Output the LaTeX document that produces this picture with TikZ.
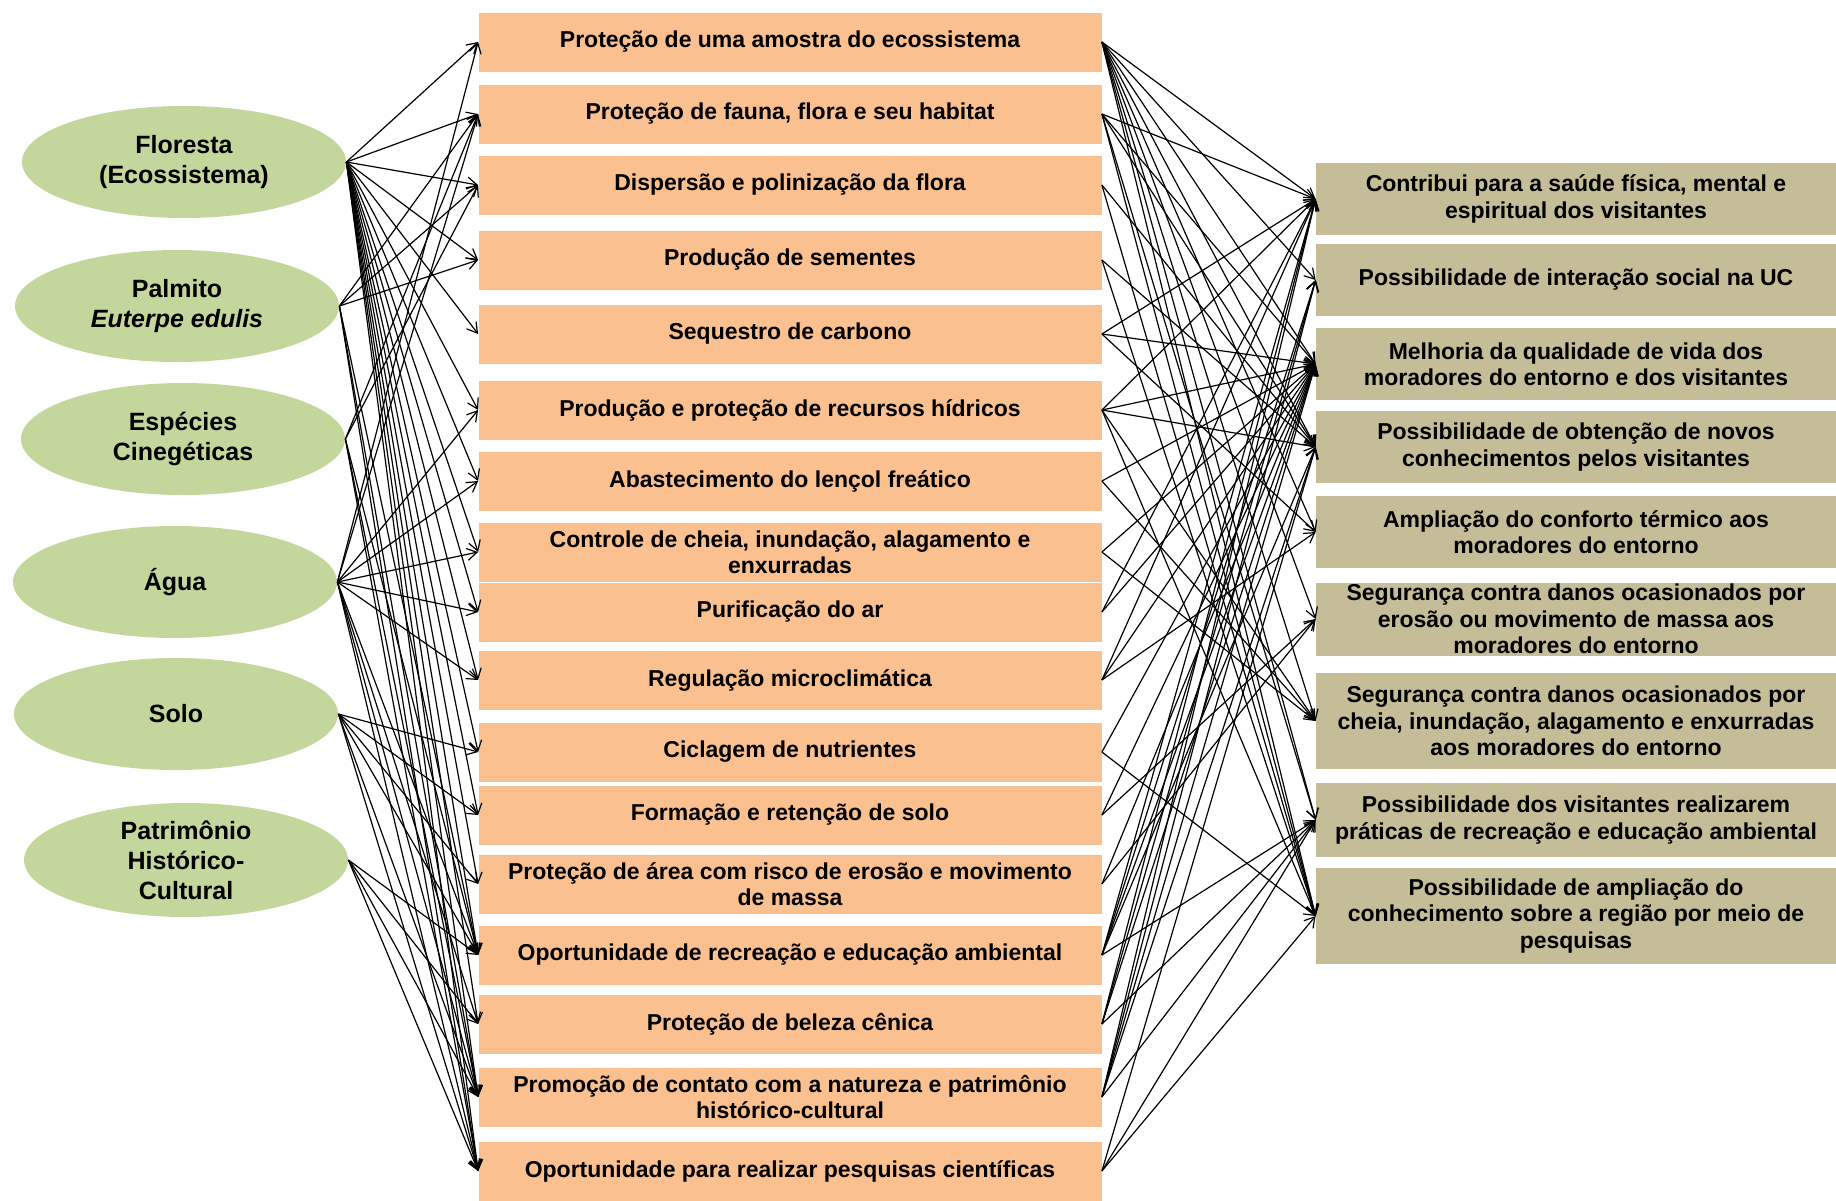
\documentclass[tikz,border=0pt]{standalone}
\usepackage{fontspec}
\setmainfont{Liberation Sans}
\usetikzlibrary{shapes.geometric,arrows.meta}

\definecolor{verde}{RGB}{195,214,155}
\definecolor{laranja}{RGB}{250,192,144}
\definecolor{bege}{RGB}{196,189,151}

\tikzset{
  recurso/.style={fill=verde, shape=ellipse, minimum width=162pt, minimum height=56pt, inner sep=0pt, align=center, font=\fontsize{12.5}{15}\selectfont\bfseries},
  servico/.style={fill=laranja, shape=rectangle, minimum width=311.5pt, minimum height=29.5pt, inner sep=0pt, align=center, font=\fontsize{11.5}{13}\selectfont\bfseries},
  beneficio/.style={fill=bege, shape=rectangle, minimum width=260pt, minimum height=36pt, inner sep=0pt, align=center, font=\fontsize{11.5}{13.2}\selectfont\bfseries},
  liga/.style={-{Straight Barb[length=5pt,width=6pt]}, line width=0.6pt}
}

\begin{document}
\begin{tikzpicture}[x=0.5pt, y=-0.5pt]
\useasboundingbox (0,0) rectangle (1836,1200);

% recursos
\node[recurso] (e1) at (184,162) {Floresta\\(Ecossistema)};
\node[recurso] (e2) at (177,306) {Palmito\\\textit{Euterpe edulis}};
\node[recurso] (e3) at (183,439) {Espécies\\Cinegéticas};
\node[recurso] (e4) at (175,582) {Água};
\node[recurso] (e5) at (176,714) {Solo};
\node[recurso, minimum height=57pt, inner ysep=-6pt] (e6) at (186,860) {Patrimônio\\Histórico-\\Cultural};

% servicos
\node[servico] (s1) at (790,42) {Proteção de uma amostra do ecossistema};
\node[servico] (s2) at (790,114) {Proteção de fauna, flora e seu habitat};
\node[servico] (s3) at (790,185) {Dispersão e polinização da flora};
\node[servico] (s4) at (790,260) {Produção de sementes};
\node[servico] (s5) at (790,334) {Sequestro de carbono};
\node[servico] (s6) at (790,410) {Produção e proteção de recursos hídricos};
\node[servico] (s7) at (790,481) {Abastecimento do lençol freático};
\node[servico] (s8) at (790,552) {Controle de cheia, inundação, alagamento e\\enxurradas};
\node[servico] (s9) at (790,612) {Purificação do ar};
\node[servico] (s10) at (790,680) {Regulação microclimática};
\node[servico] (s11) at (790,752) {Ciclagem de nutrientes};
\node[servico] (s12) at (790,815) {Formação e retenção de solo};
\node[servico] (s13) at (790,884) {Proteção de área com risco de erosão e movimento\\de massa};
\node[servico] (s14) at (790,955) {Oportunidade de recreação e educação ambiental};
\node[servico] (s15) at (790,1024) {Proteção de beleza cênica};
\node[servico] (s16) at (790,1097) {Promoção de contato com a natureza e patrimônio\\histórico-cultural};
\node[servico] (s17) at (790,1171) {Oportunidade para realizar pesquisas científicas};

% beneficios
\node[beneficio] (b1) at (1576,199) {Contribui para a saúde física, mental e\\espiritual dos visitantes};
\node[beneficio] (b2) at (1576,280) {Possibilidade de interação social na UC};
\node[beneficio] (b3) at (1576,364) {Melhoria da qualidade de vida dos\\moradores do entorno e dos visitantes};
\node[beneficio] (b4) at (1576,447) {Possibilidade de obtenção de novos\\conhecimentos pelos visitantes};
\node[beneficio] (b5) at (1576,532) {Ampliação do conforto térmico aos\\moradores do entorno};
\node[beneficio, minimum height=36.5pt] (b6) at (1576,619) {Segurança contra danos ocasionados por\\erosão ou movimento de massa aos\\moradores do entorno};
\node[beneficio, minimum height=48pt] (b7) at (1576,721) {Segurança contra danos ocasionados por\\cheia, inundação, alagamento e enxurradas\\aos moradores do entorno};
\node[beneficio, minimum height=37pt] (b8) at (1576,820) {Possibilidade dos visitantes realizarem\\práticas de recreação e educação ambiental};
\node[beneficio, minimum height=48pt] (b9) at (1576,916) {Possibilidade de ampliação do\\conhecimento sobre a região por meio de\\pesquisas};

% recursos -> servicos
\foreach \n in {1,...,17} \draw[liga] (e1.east) -- (s\n.west);
\foreach \n in {2,3,4,14,16,17} \draw[liga] (e2.east) -- (s\n.west);
\foreach \n in {2,3,14,16,17} \draw[liga] (e3.east) -- (s\n.west);
\foreach \n in {1,2,6,7,8,9,10,14,15,16,17} \draw[liga] (e4.east) -- (s\n.west);
\foreach \n in {11,12,13,14,16,17} \draw[liga] (e5.east) -- (s\n.west);
\foreach \n in {14,15,16,17} \draw[liga] (e6.east) -- (s\n.west);

% servicos -> beneficios
\foreach \a/\b in {1/1,1/2,1/3,1/4,1/5,1/6,1/7,1/8,1/9,
                   2/1,2/3,2/4,2/8,2/9,
                   3/4,3/9,
                   4/4,4/9,
                   5/1,5/3,5/5,
                   6/1,6/3,6/4,6/7,6/9,
                   7/3,7/7,
                   8/3,8/7,
                   9/1,9/3,
                   10/1,10/3,10/5,
                   11/3,11/9,
                   12/3,12/6,
                   13/3,13/6,
                   14/1,14/2,14/3,14/4,14/8,
                   15/1,15/2,15/3,15/8,
                   16/1,16/2,16/3,16/4,16/8,
                   17/4,17/8,17/9}
  \draw[liga] (s\a.east) -- (b\b.west);
\end{tikzpicture}
\end{document}
